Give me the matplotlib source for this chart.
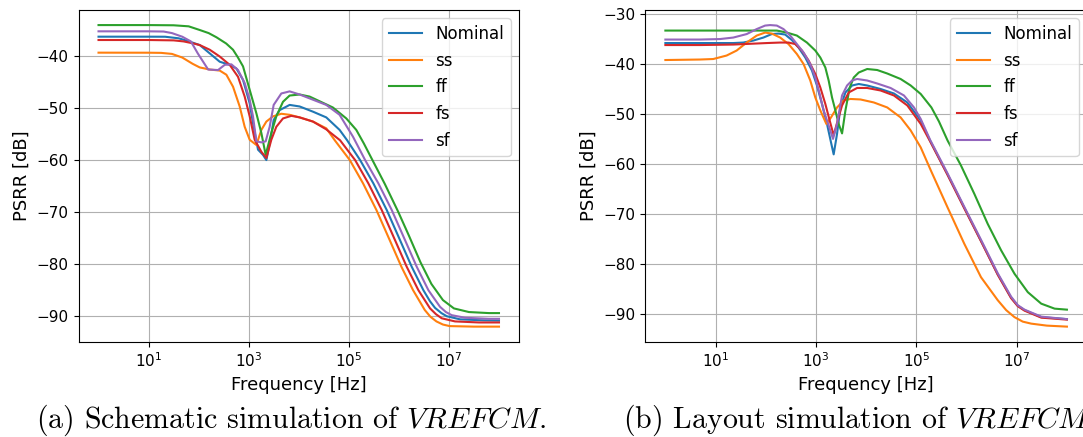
import numpy as np
import matplotlib
matplotlib.use("Agg")
import matplotlib.pyplot as plt
from matplotlib.ticker import FixedLocator, NullLocator, LogFormatterSciNotation

# ---------------- data: (a) schematic simulation ----------------
labels = ["Nominal", "ss", "ff", "fs", "sf"]
colors = ["C0", "C1", "C2", "C3", "C4"]

a_nom_logf = [0, 1.0, 1.33, 1.6, 1.78, 2.022, 2.222, 2.421, 2.621, 2.754, 2.887, 3.02, 3.086, 3.186,
              3.286, 3.353, 3.433, 3.499, 3.619, 3.818, 4.018, 4.284, 4.55, 4.816, 4.967, 5.226,
              5.492, 5.758, 6.024, 6.257, 6.49, 6.62, 6.723, 6.85, 6.956, 7.222, 7.7, 8.0]
a_nom_db = [-36.29, -36.29, -36.3, -36.6, -37.1, -37.9, -39.5, -41.1, -41.7, -42.4, -44.6, -49.1, -52.9, -58.0,
            -59.0, -60.0, -56.1, -52.3, -50.4, -49.4, -49.7, -50.7, -51.8, -54.2, -56.2, -60.0,
            -64.5, -69.6, -75.4, -80.5, -85.0, -87.1, -88.4, -89.4, -90.0, -90.6, -90.8, -90.85]

a_ss_logf = [0, 1.0, 1.25, 1.467, 1.674, 1.88, 2.022, 2.222, 2.421, 2.554, 2.687, 2.82, 2.92, 3.02,
             3.153, 3.253, 3.353, 3.486, 3.652, 3.818, 4.018, 4.284, 4.55, 4.72, 5.02, 5.286, 5.552,
             5.818, 6.051, 6.284, 6.517, 6.63, 6.75, 6.88, 7.016, 7.5, 8.0]
a_ss_db = [-39.36, -39.37, -39.4, -39.6, -40.3, -41.5, -42.2, -42.6, -42.8, -43.6, -45.9, -49.7, -53.6, -56.1,
           -57.1, -54.2, -52.6, -51.6, -51.1, -51.3, -51.8, -52.6, -53.9, -56.2, -60.0, -64.5, -69.6,
           -75.4, -80.5, -85.0, -88.8, -90.1, -91.0, -91.6, -91.9, -92.0, -92.0]

a_ff_logf = [0, 1.0, 1.5, 1.8, 2.02, 2.2, 2.355, 2.55, 2.687, 2.78, 2.887, 3.02, 3.153, 3.253, 3.339,
             3.452, 3.552, 3.685, 3.818, 4.018, 4.218, 4.484, 4.683, 4.95, 5.149, 5.3, 5.472, 5.72,
             5.985, 6.2, 6.43, 6.65, 6.88, 7.1, 7.4, 7.8, 8.0]
a_ff_db = [-34.06, -34.06, -34.1, -34.3, -35.0, -35.6, -36.4, -37.6, -38.8, -40.2, -42.0, -46.5, -51.0, -54.8,
           -59.0, -54.8, -51.6, -48.8, -47.6, -47.4, -47.8, -49.0, -49.9, -52.0, -54.2, -56.8, -60.0, -64.6,
           -69.9, -74.5, -79.6, -83.8, -86.9, -88.5, -89.2, -89.4, -89.4]

a_fs_logf = [0, 1.0, 1.5, 1.7, 1.9, 2.022, 2.222, 2.421, 2.621, 2.787, 2.92, 3.02, 3.12, 3.253, 3.353,
             3.452, 3.552, 3.685, 3.852, 4.018, 4.284, 4.55, 4.826, 5.126, 5.392, 5.658, 5.924, 6.157,
             6.39, 6.623, 6.74, 6.856, 7.122, 7.6, 8.0]
a_fs_db = [-36.93, -36.93, -37.0, -37.2, -37.6, -37.9, -38.8, -40.1, -41.7, -44.0, -47.8, -51.6, -56.1, -58.4, -59.6,
           -56.1, -53.6, -52.0, -51.5, -51.8, -52.6, -54.1, -56.2, -60.0, -64.5, -69.6, -75.4, -80.5,
           -85.0, -88.5, -89.6, -90.4, -91.0, -91.2, -91.2]

a_sf_logf = [0, 1.0, 1.3, 1.467, 1.674, 1.845, 1.983, 2.19, 2.388, 2.521, 2.654, 2.787, 2.92, 3.02,
             3.086, 3.153, 3.253, 3.339, 3.419, 3.499, 3.652, 3.818, 4.018, 4.284, 4.55, 4.816, 5.083,
             5.326, 5.592, 5.858, 6.124, 6.357, 6.59, 6.823, 6.94, 7.056, 7.322, 7.8, 8.0]
a_sf_db = [-35.26, -35.26, -35.3, -35.6, -36.3, -37.2, -39.5, -42.6, -42.7, -41.7, -41.6, -42.7, -45.2, -48.4,
           -51.6, -56.4, -56.6, -56.4, -53.6, -49.4, -47.2, -46.8, -47.4, -48.4, -49.4, -51.3, -55.5,
           -60.0, -64.5, -69.6, -75.4, -80.5, -85.0, -88.2, -89.2, -89.8, -90.3, -90.5, -90.5]

# ---------------- data: (b) layout simulation ----------------
b_nom_logf = [0, 0.687, 1.353, 1.553, 1.753, 1.953, 2.12, 2.253, 2.387, 2.52, 2.653, 2.787, 2.92, 3.02,
              3.12, 3.22, 3.3, 3.353, 3.42, 3.487, 3.587, 3.72, 3.853, 4.02, 4.287, 4.553, 4.82, 5.087,
              5.275, 5.621, 5.955, 6.288, 6.621, 6.888, 7.02, 7.155, 7.488, 8.0]
b_nom_db = [-35.8, -35.8, -35.8, -35.7, -35.3, -34.7, -34.0, -33.9, -34.1, -35.2, -36.7, -38.7, -41.3, -44.3,
            -48.0, -52.0, -55.7, -58.1, -54.0, -48.7, -45.7, -44.3, -44.0, -44.3, -45.0, -45.9, -47.7, -51.3,
            -55.4, -62.1, -68.8, -75.4, -82.1, -86.8, -88.4, -89.3, -90.7, -91.1]

b_ss_logf = [0, 0.687, 0.953, 1.22, 1.42, 1.62, 1.82, 1.987, 2.12, 2.287, 2.453, 2.62, 2.753, 2.887,
             2.987, 3.087, 3.207, 3.3, 3.42, 3.553, 3.687, 3.887, 4.153, 4.42, 4.687, 4.887, 5.087,
             5.288, 5.621, 5.955, 6.288, 6.621, 6.79, 6.955, 7.12, 7.288, 7.6, 8.0]
b_ss_db = [-39.2, -39.1, -39.0, -38.3, -37.3, -35.7, -34.3, -33.7, -33.9, -34.7, -36.0, -38.0, -40.0, -43.3,
           -46.7, -49.3, -52.0, -50.7, -48.7, -47.3, -47.0, -47.1, -47.7, -48.7, -50.7, -53.3, -56.7,
           -61.3, -68.7, -76.0, -82.7, -87.3, -89.3, -90.7, -91.6, -92.0, -92.4, -92.6]

b_ff_logf = [0, 1.0, 2.0, 2.22, 2.42, 2.62, 2.82, 2.987, 3.087, 3.187, 3.253, 3.32, 3.387, 3.453, 3.52,
             3.587, 3.673, 3.753, 3.853, 4.02, 4.22, 4.42, 4.687, 4.887, 5.087, 5.3, 5.45, 5.621, 5.888,
             6.155, 6.421, 6.688, 6.955, 7.221, 7.488, 7.755, 8.0]
b_ff_db = [-33.3, -33.3, -33.3, -33.3, -33.7, -34.3, -35.7, -37.3, -38.7, -40.7, -43.3, -46.7, -49.3, -52.0, -53.9,
           -49.3, -44.7, -42.7, -41.7, -41.0, -41.2, -41.9, -43.0, -44.3, -46.0, -48.7, -51.5, -55.3, -60.3,
           -66.0, -72.0, -77.3, -82.0, -85.7, -88.0, -89.0, -89.2]

b_fs_logf = [0, 0.687, 1.353, 2.02, 2.287, 2.453, 2.587, 2.72, 2.853, 2.987, 3.087, 3.187, 3.273, 3.353,
             3.433, 3.52, 3.653, 3.82, 4.02, 4.287, 4.553, 4.82, 5.087, 5.275, 5.621, 5.955, 6.288, 6.621,
             6.888, 7.02, 7.155, 7.488, 8.0]
b_fs_db = [-36.2, -36.2, -36.1, -35.8, -35.7, -35.7, -36.0, -37.3, -39.3, -42.0, -44.7, -48.0, -51.3, -54.3,
           -51.3, -48.3, -45.7, -44.8, -44.8, -45.3, -46.3, -48.3, -52.0, -55.5, -62.2, -68.9, -75.5, -82.2,
           -86.9, -88.5, -89.4, -90.8, -91.2]

b_sf_logf = [0, 0.687, 1.087, 1.353, 1.62, 1.82, 1.987, 2.087, 2.22, 2.353, 2.487, 2.62, 2.753, 2.887,
             2.987, 3.073, 3.153, 3.253, 3.34, 3.42, 3.52, 3.62, 3.72, 3.82, 4.02, 4.22, 4.487, 4.753,
             4.953, 5.087, 5.275, 5.621, 5.955, 6.288, 6.621, 6.888, 7.02, 7.155, 7.488, 8.0]
b_sf_db = [-35.1, -35.1, -35.0, -34.7, -34.0, -33.0, -32.3, -32.2, -32.3, -33.0, -34.3, -36.0, -37.7, -40.0,
           -42.7, -46.0, -49.3, -52.3, -55.0, -52.0, -46.3, -44.3, -43.3, -43.0, -43.3, -43.9, -44.8, -46.3,
           -48.7, -51.0, -55.2, -61.9, -68.6, -75.2, -81.9, -86.6, -88.3, -89.2, -90.6, -91.1]

xticks = [1e1, 1e3, 1e5, 1e7]
xlabel = "Frequency [Hz]"
ylabel = "PSRR [dB]"
caption_a = r"(a) Schematic simulation of $VREFCM$."
caption_b = r"(b) Layout simulation of $VREFCM$."

series_a = [(a_nom_logf, a_nom_db), (a_ss_logf, a_ss_db), (a_ff_logf, a_ff_db),
            (a_fs_logf, a_fs_db), (a_sf_logf, a_sf_db)]
series_b = [(b_nom_logf, b_nom_db), (b_ss_logf, b_ss_db), (b_ff_logf, b_ff_db),
            (b_fs_logf, b_fs_db), (b_sf_logf, b_sf_db)]

W, H = 1083, 437
fig = plt.figure(figsize=(W / 100, H / 100), dpi=100)

def px_axes(left, right, top, bottom):
    return fig.add_axes([left / W, (H - bottom) / H, (right - left) / W, (bottom - top) / H])

axA = px_axes(78.5, 519.0, 10.0, 341.7)
axB = px_axes(645.3, 1087.0, 10.0, 341.7)

for ax, series in ((axA, series_a), (axB, series_b)):
    for (lf, db), lab, c in zip(series, labels, colors):
        ax.plot(10 ** np.asarray(lf, dtype=float), db, color=c, lw=1.5, label=lab)
    ax.set_xscale("log")
    ax.xaxis.set_major_locator(FixedLocator(xticks))
    ax.xaxis.set_major_formatter(LogFormatterSciNotation())
    ax.xaxis.set_minor_locator(NullLocator())
    ax.grid(True, which="major", color="#b0b0b0", lw=0.8)
    ax.tick_params(labelsize=11)
    ax.set_xlabel(xlabel, fontsize=13)
    ax.set_ylabel(ylabel, fontsize=13)
    ax.legend(loc="upper right", fontsize=12, labelspacing=0.52)

for cap, xpx in ((caption_a, 36), (caption_b, 623)):
    fig.text(xpx / W, (H - 427.5) / H, cap, ha="left", va="baseline",
             fontsize=21.5, family="cmr10", math_fontfamily="cm")

fig.savefig("out.png", dpi=100)
